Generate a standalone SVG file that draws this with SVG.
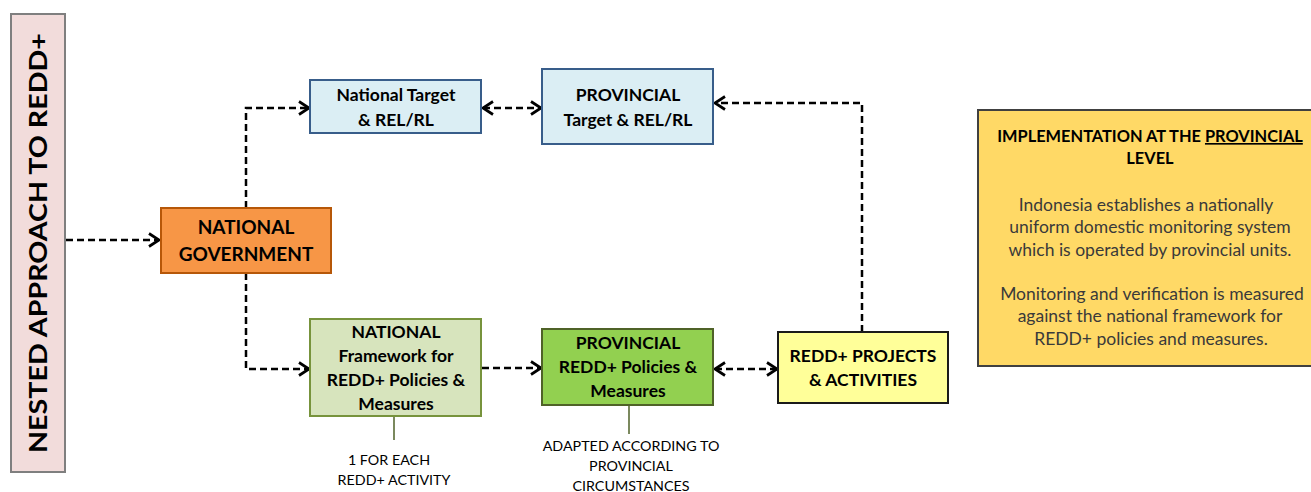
<svg xmlns="http://www.w3.org/2000/svg" width="1311" height="492" viewBox="0 0 1311 492">
<style>
text{font-family:Lato,"Open Sans","Liberation Sans",sans-serif;text-anchor:middle;fill:#000}
.b{font-weight:bold}
.box{stroke-width:2}
.c{fill:none;stroke:#000;stroke-width:2.5;stroke-dasharray:7,4}
.call{fill:none;stroke:#4f6228;stroke-width:1.5}
.t16{font-size:17.5px;font-weight:bold}
.note{font-size:14.3px}
.para{font-size:17.5px;fill:#3a3a3a}
</style>
<defs>
<marker id="ah" viewBox="0 0 12 16" refX="11" refY="8" markerWidth="12" markerHeight="16" markerUnits="userSpaceOnUse" orient="auto-start-reverse">
<path d="M1,1.5 L11,8 L1,14.5" fill="none" stroke="#000" stroke-width="2.7"/>
</marker>
</defs>
<rect width="1311" height="492" fill="#fff"/>
<g id="connectors">
<path class="c" d="M66,240 H159" marker-end="url(#ah)"/>
<path class="c" d="M246,208 V108 H309" marker-end="url(#ah)"/>
<path class="c" d="M246,273 V369 H309" marker-end="url(#ah)"/>
<path class="c" d="M483,108 H541" marker-start="url(#ah)" marker-end="url(#ah)"/>
<path class="c" d="M862,332 V103 H715" marker-end="url(#ah)"/>
<path class="c" d="M482,368 H541" marker-end="url(#ah)"/>
<path class="c" d="M715,369 H777" marker-start="url(#ah)" marker-end="url(#ah)"/>
<path class="call" d="M394,417 V440"/>
<path class="call" d="M629,406 V434"/>
</g>
<g id="nested">
<rect class="box" x="11" y="14" width="54" height="458" fill="#f2dcdb" stroke="#7f7f7f"/>
<text class="b" transform="translate(47,243) rotate(-90)" font-size="25" textLength="420" lengthAdjust="spacingAndGlyphs">NESTED APPROACH TO REDD+</text>
</g>
<g id="national-government">
<rect class="box" x="161" y="208" width="170" height="65" fill="#f79646" stroke="#b65708"/>
<text class="b" x="246" y="234" font-size="19">NATIONAL</text>
<text class="b" x="246" y="261" font-size="19">GOVERNMENT</text>
</g>
<g id="national-target">
<rect class="box" x="310" y="80" width="171" height="53" fill="#dbeef4" stroke="#385d8a"/>
<text class="t16" x="396" y="101">National Target</text>
<text class="t16" x="396" y="126">&amp; REL/RL</text>
</g>
<g id="provincial-target">
<rect class="box" x="542" y="69" width="171" height="75" fill="#dbeef4" stroke="#385d8a"/>
<text class="t16" x="628" y="101">PROVINCIAL</text>
<text class="t16" x="628" y="126">Target &amp; REL/RL</text>
</g>
<g id="national-framework">
<rect class="box" x="310" y="319" width="171" height="97" fill="#d7e4bd" stroke="#77933c"/>
<text class="t16" x="396" y="338">NATIONAL</text>
<text class="t16" x="396" y="362">Framework for</text>
<text class="t16" x="396" y="386">REDD+ Policies &amp;</text>
<text class="t16" x="396" y="410">Measures</text>
</g>
<g id="provincial-policies">
<rect class="box" x="542" y="329" width="171" height="76" fill="#92d050" stroke="#4f6228"/>
<text class="t16" x="628" y="349">PROVINCIAL</text>
<text class="t16" x="628" y="373">REDD+ Policies &amp;</text>
<text class="t16" x="628" y="397">Measures</text>
</g>
<g id="projects">
<rect class="box" x="778" y="332" width="170" height="71" fill="#ffff99" stroke="#1a1a1a"/>
<text class="t16" x="863" y="362">REDD+ PROJECTS</text>
<text class="t16" x="863" y="386">&amp; ACTIVITIES</text>
</g>
<g id="note-national">
<text class="note" x="389" y="465">1 FOR EACH</text>
<text class="note" x="394" y="485">REDD+ ACTIVITY</text>
</g>
<g id="note-provincial">
<text class="note" x="631" y="451">ADAPTED ACCORDING TO</text>
<text class="note" x="631" y="471">PROVINCIAL</text>
<text class="note" x="631" y="491">CIRCUMSTANCES</text>
</g>
<g id="implementation">
<rect class="box" x="978" y="110" width="345" height="256" fill="#ffd966" stroke="#404040"/>
<text class="b" x="1150" y="142" font-size="16.4">IMPLEMENTATION AT THE <tspan text-decoration="underline">PROVINCIAL</tspan></text>
<text class="b" x="1150" y="164" font-size="16.4">LEVEL</text>
<text class="para" x="1146" y="211">Indonesia establishes a nationally</text>
<text class="para" x="1150" y="233">uniform domestic monitoring system</text>
<text class="para" x="1150" y="256">which is operated  by provincial units.</text>
<text class="para" x="1152" y="300">Monitoring and verification is measured</text>
<text class="para" x="1150" y="322">against the national framework for</text>
<text class="para" x="1151" y="345">REDD+ policies and measures.</text>
</g>
</svg>
